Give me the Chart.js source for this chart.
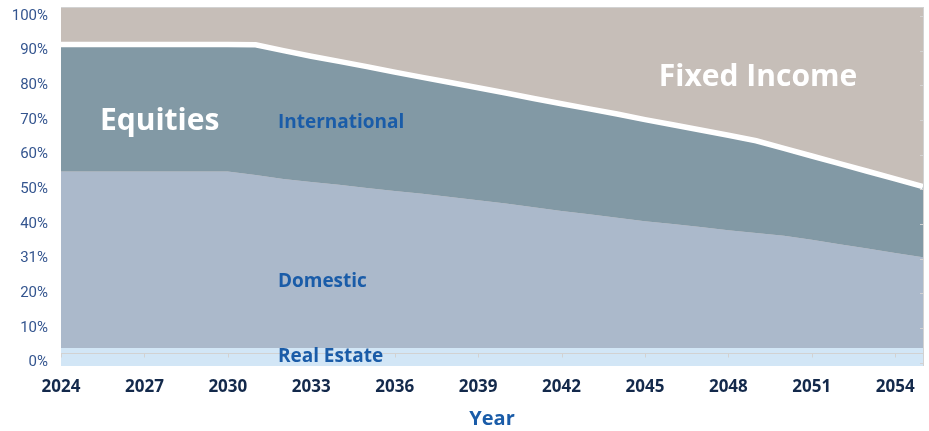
<!DOCTYPE html>
<html>
<head>
<meta charset="utf-8">
<script src="https://cdn.jsdelivr.net/npm/chart.js@4.4.1/dist/chart.umd.min.js"></script>
<style>
  html, body { margin: 0; padding: 0; background: #fff; }
  #wrap { width: 929px; height: 431px; position: relative; }
</style>
</head>
<body>
<div id="wrap"><canvas id="glideChart"></canvas></div>
<script>
// years on the x axis (one point per year)
const years = [2024, 2025, 2026, 2027, 2028, 2029, 2030, 2031, 2032, 2033, 2034, 2035, 2036, 2037, 2038, 2039,
  2040, 2041, 2042, 2043, 2044, 2045, 2046, 2047, 2048, 2049, 2050, 2051, 2052, 2053, 2054, 2055];
const xTickValues = [2024, 2027, 2030, 2033, 2036, 2039, 2042, 2045, 2048, 2051, 2054];

// allocation per year, % (stacked bottom to top)
const realEstate = [4.2, 4.2, 4.2, 4.2, 4.2, 4.2, 4.2, 4.2, 4.2, 4.2, 4.2, 4.2, 4.2, 4.2, 4.2, 4.2,
  4.2, 4.2, 4.2, 4.2, 4.2, 4.2, 4.2, 4.2, 4.2, 4.2, 4.2, 4.2, 4.2, 4.2, 4.2, 4.2];
const domestic = [50.9, 50.9, 50.9, 50.9, 50.9, 50.9, 50.9, 49.9, 48.8, 47.9, 47.1, 46.2, 45.3, 44.5, 43.6, 42.6,
  41.7, 40.6, 39.5, 38.6, 37.6, 36.6, 35.8, 34.9, 34.0, 33.2, 32.4, 31.2, 29.9, 28.7, 27.4, 26.2];
const international = [36.7, 36.7, 36.7, 36.7, 36.7, 36.7, 36.7, 37.6, 37.0, 36.3, 35.6, 35.0, 34.3, 33.6, 33.0, 32.5,
  31.9, 31.4, 31.0, 30.4, 29.9, 29.3, 28.6, 28.0, 27.4, 26.6, 25.2, 24.2, 23.3, 22.3, 21.4, 20.4];
const fixedIncome = [8.2, 8.2, 8.2, 8.2, 8.2, 8.2, 8.2, 8.3, 10.0, 11.6, 13.1, 14.6, 16.2, 17.7, 19.2, 20.7,
  22.2, 23.8, 25.3, 26.8, 28.3, 29.9, 31.4, 32.9, 34.4, 36.0, 38.2, 40.4, 42.6, 44.8, 47.0, 49.2];

// y axis ticks as printed on the original
const yTickValues = [0, 10, 20, 30, 40, 50, 60, 70, 80, 90, 100];
const yTickLabels = ['0%', '10%', '20%', '31%', '40%', '50%', '60%', '70%', '80%', '90%', '100%'];

// area labels written inside the chart
const areaLabels = [
  { text: 'Equities', year: 2025.4, value: 69.7, size: 30, color: '#ffffff' },
  { text: 'International', year: 2031.8, value: 69.1, size: 19, color: '#1a5ca8' },
  { text: 'Domestic', year: 2031.8, value: 23.5, size: 19, color: '#1a5ca8' },
  { text: 'Real Estate', year: 2031.8, value: 1.6, size: 19, color: '#1a5ca8' },
  { text: 'Fixed Income', year: 2045.5, value: 82.2, size: 30, color: '#ffffff' }
];

const toPoints = vals => years.map((yr, i) => ({ x: yr, y: vals[i] }));

// tan background above the stack + thin frame and the inner axis line
const framePlugin = {
  id: 'frame',
  beforeDatasetsDraw(chart) {
    const { ctx, chartArea: a } = chart;
    ctx.save();
    ctx.fillStyle = '#c6beb8';
    ctx.fillRect(a.left, a.top, a.right - a.left, a.bottom - a.top);
    ctx.restore();
  },
  afterDatasetsDraw(chart) {
    const { ctx, chartArea: a, scales } = chart;
    ctx.save();
    ctx.strokeStyle = '#d2d2d2';
    ctx.lineWidth = 1;
    ctx.beginPath();
    ctx.moveTo(a.left, a.top + 0.5);
    ctx.lineTo(a.right, a.top + 0.5);
    ctx.moveTo(a.right + 0.5, a.top);
    ctx.lineTo(a.right + 0.5, a.bottom);
    yTickValues.forEach(v => {
      const y = Math.round(scales.y.getPixelForValue(v)) + 0.5;
      ctx.moveTo(a.right - 3, y);
      ctx.lineTo(a.right, y);
    });
    const axisY = Math.round(scales.y.getPixelForValue(2.75)) + 0.5;
    ctx.moveTo(a.left, axisY);
    ctx.lineTo(a.right, axisY);
    xTickValues.forEach(v => {
      const x = Math.round(scales.x.getPixelForValue(v)) + 0.5;
      ctx.moveTo(x, axisY);
      ctx.lineTo(x, axisY + 4);
    });
    ctx.stroke();

    ctx.textAlign = 'left';
    ctx.textBaseline = 'middle';
    areaLabels.forEach(l => {
      ctx.font = `bold ${l.size}px "Open Sans"`;
      ctx.fillStyle = l.color;
      ctx.fillText(l.text, scales.x.getPixelForValue(l.year), scales.y.getPixelForValue(l.value));
    });
    ctx.restore();
  }
};

const ctx = document.getElementById('glideChart').getContext('2d');
new Chart(ctx, {
  type: 'line',
  data: {
    datasets: [
      { label: 'Real Estate', data: toPoints(realEstate), backgroundColor: '#d2e6f6', borderWidth: 0, fill: 'start' },
      { label: 'Domestic', data: toPoints(domestic), backgroundColor: '#abb9cb', borderWidth: 0, fill: '-1' },
      { label: 'International', data: toPoints(international), backgroundColor: '#8299a5', borderColor: '#ffffff', borderWidth: 5.5, fill: '-1' },
      { label: 'Fixed Income', data: toPoints(fixedIncome), backgroundColor: '#c6beb8', borderWidth: 0, fill: '-1' }
    ]
  },
  options: {
    responsive: true,
    maintainAspectRatio: false,
    animation: false,
    layout: { padding: { top: 7, right: 6, left: 0, bottom: 0 } },
    elements: { point: { radius: 0 }, line: { tension: 0 } },
    plugins: { legend: { display: false }, tooltip: { enabled: false } },
    scales: {
      x: {
        type: 'linear',
        min: 2024,
        max: 2055,
        grid: { display: false, drawTicks: false },
        border: { display: false },
        afterBuildTicks: s => { s.ticks = xTickValues.map(v => ({ value: v })); },
        ticks: {
          padding: 11,
          maxRotation: 0,
          autoSkip: false,
          color: '#13294b',
          font: { family: 'Open Sans', weight: 'bold', size: 17 },
          callback: v => String(v)
        },
        title: {
          display: true,
          text: 'Year',
          color: '#1a5ca8',
          font: { family: 'Open Sans', weight: 'bold', size: 20 },
          padding: { top: 0, bottom: 0 }
        },
        afterFit: s => {
          s.height = 65;
          s.paddingLeft = 0;
          s.paddingRight = 0;
        }
      },
      y: {
        stacked: true,
        min: -1,
        max: 102.6,
        grid: { display: false, drawTicks: false },
        border: { display: false },
        afterBuildTicks: s => { s.ticks = yTickValues.map(v => ({ value: v })); },
        ticks: {
          padding: 13,
          color: '#34558f',
          font: { family: 'Roboto', size: 15 },
          callback: v => yTickLabels[yTickValues.indexOf(v)]
        },
        afterFit: s => {
          s.width = 61;
          s.paddingTop = 0;
          s.paddingBottom = 0;
        }
      }
    }
  },
  plugins: [framePlugin]
});
</script>
</body>
</html>
